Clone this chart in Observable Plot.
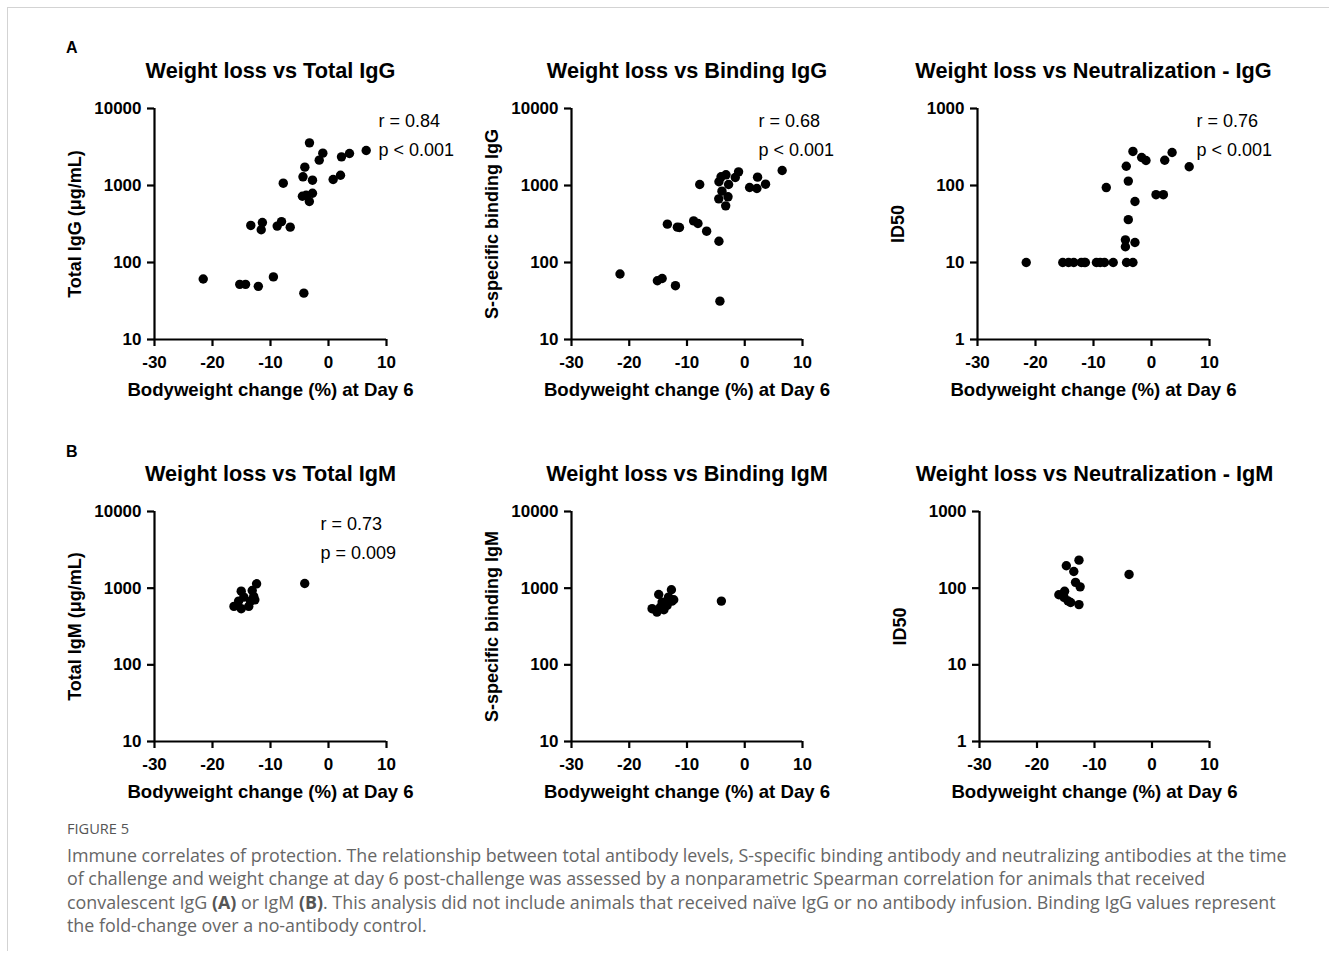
<!DOCTYPE html>
<html><head><meta charset="utf-8">
<script src="https://cdn.jsdelivr.net/npm/d3@7"></script>
<script src="https://cdn.jsdelivr.net/npm/@observablehq/plot@0.6"></script>
<style>
html,body{margin:0;padding:0;background:#fff;}
body{width:1329px;height:959px;position:relative;overflow:hidden;font-family:"Liberation Sans",Arial,sans-serif;}
.frame{position:absolute;left:7px;top:7px;width:1330px;height:943px;border-left:1px solid #d3d3d3;border-top:1px solid #d3d3d3;}
.letter{position:absolute;font-weight:bold;font-size:16px;line-height:16px;color:#000;}
.panel{position:absolute;}
.figlabel{position:absolute;left:67px;top:818px;font-family:"Open Sans",Lato,sans-serif;font-size:14.6px;color:#555;}
.caption{position:absolute;left:67px;top:844px;font-family:"Open Sans",Lato,sans-serif;font-size:17.85px;line-height:23.4px;color:#666;white-space:nowrap;}
.caption b{color:#555;}
</style>
</head><body>
<div class="frame"></div>
<div class="letter" style="left:66px;top:40px;">A</div>
<div class="letter" style="left:66px;top:444px;">B</div>
<div id="charts"></div>
<div class="figlabel">FIGURE 5</div>
<div class="caption">Immune correlates of protection. The relationship between total antibody levels, S-specific binding antibody and neutralizing antibodies at the time<br>of challenge and weight change at day 6 post-challenge was assessed by a nonparametric Spearman correlation for animals that received<br>convalescent IgG <b>(A)</b> or IgM <b>(B)</b>. This analysis did not include animals that received naïve IgG or no antibody infusion. Binding IgG values represent<br>the fold-change over a no-antibody control.</div>
<script>
// ---- data ----
const xDomain = [-30, 10];
const xTicks = [-30, -20, -10, 0, 10];
const yDomainAb = [10, 10000];
const yTicksAb = [10, 100, 1000, 10000];
const yDomainNeut = [1, 1000];
const yTicksNeut = [1, 10, 100, 1000];
const xLabel = "Bodyweight change (%) at Day 6";

const totalIgG_x = [-21.6,-15.3,-14.3,-12.1,-9.5,-4.25,-13.4,-11.4,-11.6,-8.85,-8.1,-6.6,-7.8,-3.28,-4.08,-4.4,-2.76,-4.5,-3.85,-2.76,-3.3,-1.6,-0.98,0.8,2.07,2.24,3.62,6.5];
const totalIgG_y = [61,52,52,49,65,40,303,330,266,297,340,288,1072,3580,1730,1297,1172,726,748,794,620,2133,2630,1197,1360,2354,2607,2850];

const bindIgG_x = [-21.6,-15.13,-14.3,-12.0,-4.3,-13.4,-11.67,-11.3,-8.85,-8.1,-6.6,-4.47,-7.8,-4.1,-3.25,-4.47,-2.8,-3.95,-4.5,-2.9,-3.3,-1.64,-1.07,0.84,2.1,2.22,3.6,6.48];
const bindIgG_y = [71,58,62,50,31.5,315,288,285,347,321,255,189,1030,1297,1377,1117,1030,844,671,713,544,1270,1504,942,914,1283,1040,1566];

const neutIgG_x = [-21.6,-15.3,-14.3,-13.4,-12.1,-11.6,-11.4,-9.5,-8.85,-8.1,-6.6,-4.3,-3.2,-7.8,-4.35,-3.2,-4.0,-2.85,-4.0,-4.5,-4.5,-2.85,-1.7,-0.95,0.78,2.05,2.28,3.55,6.5];
const neutIgG_y = [10,10,10,10,10,10,10,10,10,10,10,10,10,94,178,277,114,62,36,19.7,16,18.2,231,211,76,76,213,268,175];

const totalIgM_x = [-12.4,-15.05,-13.15,-12.9,-14.6,-15.5,-13.45,-16.3,-15.05,-13.75,-12.7,-4.1];
const totalIgM_y = [1140,914,933,780,764,678,678,578,540,578,705,1150];

const bindIgM_x = [-12.7,-14.9,-13.2,-12.6,-13.45,-14.6,-16.05,-15.2,-14.0,-14.3,-12.3,-4.05];
const bindIgM_y = [953,828,764,678,596,566,540,488,523,658,706,678];

const neutIgM_x = [-12.7,-14.9,-13.6,-13.3,-12.5,-16.2,-15.2,-15.3,-14.15,-12.7,-14.6,-3.99];
const neutIgM_y = [232,196,165,119,104,82,91,76,65,61,68,151];

const titles = ["Weight loss vs Total IgG","Weight loss vs Binding IgG","Weight loss vs Neutralization - IgG",
                "Weight loss vs Total IgM","Weight loss vs Binding IgM","Weight loss vs Neutralization - IgM"];
const yLabels = ["Total IgG (\u03bcg/mL)","S-specific binding IgG","ID50","Total IgM (\u03bcg/mL)","S-specific binding IgM","ID50"];
const statR = ["r = 0.84","r = 0.68","r = 0.76","r = 0.73",null,null];
const statP = ["p < 0.001","p < 0.001","p < 0.001","p = 0.009",null,null];

// ---- layout (plot-area boxes) ----
const boxes = [
  {x0:154, x1:386, y0:108, y1:339, statDx:-8},
  {x0:571, x1:802, y0:108, y1:339, statDx:-44},
  {x0:977, x1:1209, y0:108, y1:339, statDx:-13},
  {x0:154, x1:386, y0:511, y1:741, statDx:-66},
  {x0:571, x1:802, y0:511, y1:741, statDx:0},
  {x0:979, x1:1209, y0:511, y1:741, statDx:0}
];
const series = [
  [totalIgG_x,totalIgG_y,yDomainAb,yTicksAb],
  [bindIgG_x,bindIgG_y,yDomainAb,yTicksAb],
  [neutIgG_x,neutIgG_y,yDomainNeut,yTicksNeut],
  [totalIgM_x,totalIgM_y,yDomainAb,yTicksAb],
  [bindIgM_x,bindIgM_y,yDomainAb,yTicksAb],
  [neutIgM_x,neutIgM_y,yDomainNeut,yTicksNeut]
];

const mL = 95, mT = 55, mR = 90, mB = 65;
const host = document.getElementById("charts");
series.forEach(([xs, ys, yDomain, yTicks], i) => {
  const b = boxes[i];
  const data = xs.map((x, j) => ({x, y: ys[j]}));
  const marks = [
    Plot.ruleX([xDomain[0]], {y1: yDomain[0], y2: yDomain[1], strokeWidth: 2.2}),
    Plot.ruleY([yDomain[0]], {x1: xDomain[0], x2: xDomain[1], strokeWidth: 2.2}),
    Plot.axisX(xTicks, {tickSize: 7, tickPadding: 9, strokeWidth: 2.2, label: null, tickFormat: d => String(d)}),
    Plot.axisY(yTicks, {tickSize: 7, tickPadding: 6, strokeWidth: 2.2, label: null, tickFormat: d => String(d)}),
    Plot.dot(data, {x: "x", y: "y", r: 4.7, fill: "black", stroke: "none"}),
    Plot.text([titles[i]], {frameAnchor: "top", lineAnchor: "middle", dy: -37, fontSize: 21.7, fontWeight: "bold"}),
    Plot.text([yLabels[i]], {frameAnchor: "left", textAnchor: "middle", lineAnchor: "middle", rotate: -90, dx: -79, fontSize: 18, fontWeight: "bold"}),
    Plot.text([xLabel], {frameAnchor: "bottom", lineAnchor: "middle", dy: 51, fontSize: 18.6, fontWeight: "bold"})
  ];
  if (statR[i]) {
    marks.push(Plot.text([statR[i]], {frameAnchor: "top-right", textAnchor: "start", lineAnchor: "middle", dx: b.statDx, dy: 12.5, fontSize: 18, fontWeight: "normal"}));
    marks.push(Plot.text([statP[i]], {frameAnchor: "top-right", textAnchor: "start", lineAnchor: "middle", dx: b.statDx, dy: 41.5, fontSize: 18, fontWeight: "normal"}));
  }
  const plot = Plot.plot({
    width: mL + (b.x1 - b.x0) + mR,
    height: mT + (b.y1 - b.y0) + mB,
    marginLeft: mL, marginTop: mT, marginRight: mR, marginBottom: mB,
    style: {background: "transparent", overflow: "visible", fontFamily: "'Liberation Sans', Arial, sans-serif", fontSize: "17px", fontWeight: "bold", color: "#000"},
    x: {domain: xDomain},
    y: {type: "log", domain: yDomain},
    marks
  });
  const div = document.createElement("div");
  div.className = "panel";
  div.style.left = (b.x0 - mL) + "px";
  div.style.top = (b.y0 - mT) + "px";
  div.appendChild(plot);
  host.appendChild(div);
});
</script>
</body></html>
